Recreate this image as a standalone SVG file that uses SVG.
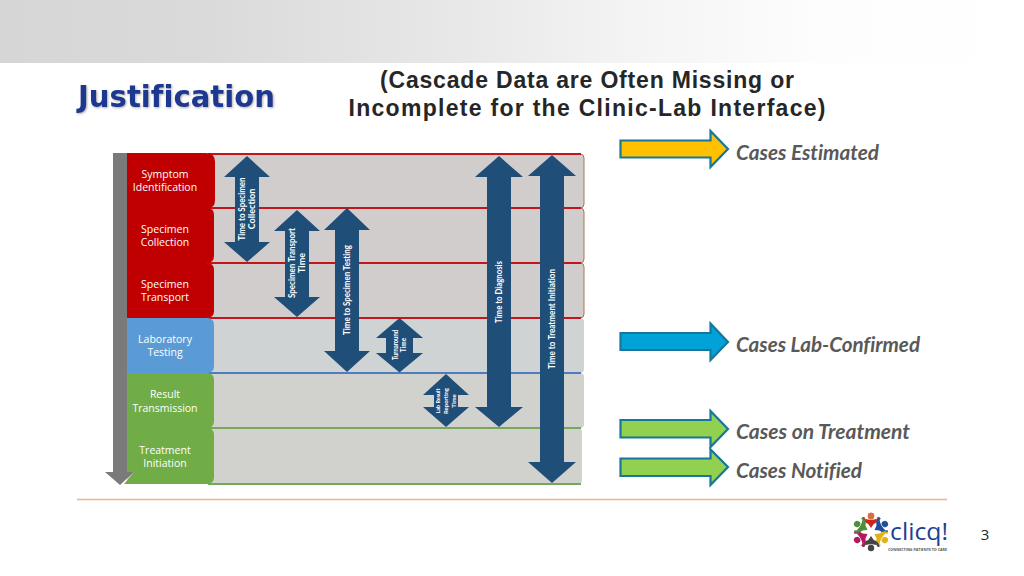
<svg xmlns="http://www.w3.org/2000/svg" width="1024" height="576" viewBox="0 0 1024 576">
<defs>
<linearGradient id="banner" x1="0" x2="1" y1="0" y2="0"><stop offset="0" stop-color="#d6d6d6"/><stop offset="0.2" stop-color="#dadada"/><stop offset="0.45" stop-color="#e8e8e8"/><stop offset="0.62" stop-color="#f4f4f4"/><stop offset="0.8" stop-color="#fdfdfd"/><stop offset="1" stop-color="#ffffff"/></linearGradient>
<filter id="sh" x="-5%" y="-20%" width="110%" height="140%"><feDropShadow dx="1" dy="1" stdDeviation="0.800" flood-color="#777" flood-opacity="0.6"/></filter>
<g id="person"><path d="M-6.500 -13.500Q0 -11 6.500 -13.500L0 -4Z"/><path d="M-7.500 -15Q-7 -10 -2 -9" fill="none" stroke-width="2" stroke="inherit"/><path d="M7.500 -15Q7 -10 2 -9" fill="none" stroke-width="2" stroke="inherit"/><circle cx="0" cy="-16" r="3.200"/></g>
</defs>
<style>
text{font-variant-ligatures:none}
.box{font-family:"Open Sans","Liberation Sans",sans-serif;font-size:10.500px;fill:#fff;text-anchor:middle}
.dbl{fill:#1f4e79}
.dt{font-family:"Lato","Open Sans",sans-serif;font-weight:700;fill:#fff;text-anchor:middle}
.case{font-family:"Lato","Open Sans",sans-serif;font-weight:700;font-style:italic;font-size:21px;fill:#595959}
.big{stroke:#17779b;stroke-width:2.200}
.head{font-family:"Liberation Sans","DejaVu Sans",sans-serif;font-weight:700;font-size:23px;fill:#262626;text-anchor:middle}
.rowbg{fill:#d2cdcd}
</style>
<rect id="banner-rect" x="0" y="0" width="1024" height="63" fill="url(#banner)"/>
<text id="title" x="78" y="107" font-family="DejaVu Sans,sans-serif" font-weight="700" font-size="31" fill="#1a3791" filter="url(#sh)" textLength="197" lengthAdjust="spacingAndGlyphs">Justification</text>
<g id="subtitle">
<text class="head" x="587" y="88" textLength="414">(Cascade Data are Often Missing or</text>
<text class="head" x="587" y="116" textLength="477">Incomplete for the Clinic-Lab Interface)</text>
</g>

<g id="swimlanes">
<path class="rowbg" d="M127 154H580Q584 154 584 158V204Q584 208 580 208H127Z"/>
<path class="rowbg" d="M127 208H580Q584 208 584 212V259Q584 263 580 263H127Z"/>
<path class="rowbg" d="M127 263H580Q584 263 584 267V314Q584 318 580 318H127Z"/>
<path d="M127 318H580Q584 318 584 322V369Q584 373 580 373H127Z" fill="#d0d3d3"/>
<path d="M127 373H580Q584 373 584 377V424Q584 428 580 428H127Z" fill="#d1d2ce"/>
<path d="M127 428H578Q582 428 582 432V480Q582 484 578 484H127Z" fill="#d1d2ce"/>
<path d="M580 154Q584 154 584 158V204Q584 208 580 208M580 208Q584 208 584 212V259Q584 263 580 263M580 263Q584 263 584 267V314Q584 318 580 318" fill="none" stroke="#a5765a" stroke-width="1"/>
<g fill="none" stroke-width="2">
<path d="M208 154H581M208 208H581M208 263H581M208 318H581" stroke="#c0161c"/>
<path d="M208 373H581" stroke="#4f7cc0"/>
<path d="M208 428H581M208 484H581" stroke="#77a75a"/>
</g>
</g>

<g id="phase-arrow"><path d="M113 153H127V472H134L120 485L105 472H113Z" fill="#7a7a7a"/></g>

<g id="symptom"><path d="M127 153H206Q215 153 215 162V200Q215 208 208 208H127Z" fill="#c00000"/><text class="box" x="165" y="178">Symptom</text><text class="box" x="165" y="191">Identification</text></g>
<g id="collection"><path d="M127 208H207Q214 208 214 215V256Q214 263 207 263H127Z" fill="#c00000"/><text class="box" x="165" y="233">Specimen</text><text class="box" x="165" y="246">Collection</text></g>
<g id="transport"><path d="M127 263H207Q214 263 214 270V311Q214 318 207 318H127Z" fill="#c00000"/><text class="box" x="165" y="288">Specimen</text><text class="box" x="165" y="301">Transport</text></g>
<g id="laboratory"><path d="M127 318H207Q214 318 214 325V366Q214 373 207 373H127Z" fill="#5b9bd5"/><text class="box" x="165" y="343">Laboratory</text><text class="box" x="165" y="356">Testing</text></g>
<g id="result"><path d="M127 373H207Q214 373 214 380V421Q214 428 207 428H127Z" fill="#70ad47"/><text class="box" x="165" y="398">Result</text><text class="box" x="165" y="412">Transmission</text></g>
<g id="treatment"><path d="M127 428H207Q214 428 214 435V477Q214 484 207 484H124L134 472H127Z" fill="#70ad47"/><text class="box" x="165" y="454">Treatment</text><text class="box" x="165" y="467">Initiation</text></g>

<g id="connectors">
<path class="dbl" d="M247 156L270 177H259V242H270L247 262L224 242H235V177H224Z"/>
<path class="dbl" d="M297 210L320 231H309V297H320L297 317L274 297H285V231H274Z"/>
<path class="dbl" d="M347 208L370 230H359V351H370L347 372L324 351H335V230H324Z"/>
<path class="dbl" d="M399.500 318L423 338H413V353H423L399.500 372.500L376 353H386V338H376Z"/>
<path class="dbl" d="M446 374L469 395H458V407H469L446 427L423 407H434V395H423Z"/>
<path class="dbl" d="M499 156L523 177H511V407H523L499 427L475 407H487V177H475Z"/>
<path class="dbl" d="M552 155L576 176H564V462H576L552 483L528 462H540V176H528Z"/>
</g>
<g id="interval-labels">
<g transform="translate(247 209) rotate(-90)"><text class="dt" font-size="9" y="-2.500" textLength="63" lengthAdjust="spacingAndGlyphs">Time to Specimen</text><text class="dt" font-size="9" y="8">Collection</text></g>
<g transform="translate(297 263) rotate(-90)"><text class="dt" font-size="9" y="-2.500" textLength="70" lengthAdjust="spacingAndGlyphs">Specimen Transport</text><text class="dt" font-size="9" y="8">Time</text></g>
<g transform="translate(347 290) rotate(-90)"><text class="dt" font-size="9" y="3" textLength="90" lengthAdjust="spacingAndGlyphs">Time to Specimen Testing</text></g>
<g transform="translate(399.500 345) rotate(-90)"><text class="dt" font-size="6.500" y="-2" textLength="30" lengthAdjust="spacingAndGlyphs">Turnaround</text><text class="dt" font-size="6.500" y="6">Time</text></g>
<g transform="translate(446 401) rotate(-90)"><text class="dt" font-size="6" y="-6" textLength="25" lengthAdjust="spacingAndGlyphs">Lab Result</text><text class="dt" font-size="6" y="2" textLength="26" lengthAdjust="spacingAndGlyphs">Reporting</text><text class="dt" font-size="6" y="10">Time</text></g>
<g transform="translate(499 292) rotate(-90)"><text class="dt" font-size="9" y="3" textLength="62" lengthAdjust="spacingAndGlyphs">Time to Diagnosis</text></g>
<g transform="translate(552 319) rotate(-90)"><text class="dt" font-size="9" y="3" textLength="100" lengthAdjust="spacingAndGlyphs">Time to Treatment Initiation</text></g>
</g>

<g id="cases-estimated"><path class="big" d="M620.500 140.500H710.500V131L728 149L710.500 167V157.500H620.500Z" fill="#ffc000"/><text class="case" x="736" y="160" textLength="143" lengthAdjust="spacingAndGlyphs">Cases Estimated</text></g>
<g id="cases-lab"><path class="big" d="M620.500 333H710.500V323.500L728 342L710.500 360V350H620.500Z" fill="#00a2d8"/><text class="case" x="736" y="352" textLength="184" lengthAdjust="spacingAndGlyphs">Cases Lab-Confirmed</text></g>
<g id="cases-treatment"><path class="big" d="M620.500 420H710.500V411L728 429L710.500 447V437.500H620.500Z" fill="#92d050"/><text class="case" x="736" y="439" textLength="174" lengthAdjust="spacingAndGlyphs">Cases on Treatment</text></g>
<g id="cases-notified"><path class="big" d="M620.500 458.500H710.500V449.500L728 467L710.500 485V476H620.500Z" fill="#92d050"/><text class="case" x="736" y="478" textLength="126" lengthAdjust="spacingAndGlyphs">Cases Notified</text></g>

<path id="rule" d="M77 499.500H947" stroke="#f4b183" stroke-width="1.500" fill="none"/>

<g id="logo">
<use href="#person" transform="translate(871 532)" fill="#c8281e" stroke="#c8281e" stroke-width="0"/>
<use href="#person" transform="translate(871 532) rotate(60)" fill="#1f4f9e" stroke="#1f4f9e" stroke-width="0"/>
<use href="#person" transform="translate(871 532) rotate(120)" fill="#e0b21c" stroke="#e0b21c" stroke-width="0"/>
<use href="#person" transform="translate(871 532) rotate(180)" fill="#454545" stroke="#454545" stroke-width="0"/>
<use href="#person" transform="translate(871 532) rotate(240)" fill="#b3195e" stroke="#b3195e" stroke-width="0"/>
<use href="#person" transform="translate(871 532) rotate(300)" fill="#4e8f3a" stroke="#4e8f3a" stroke-width="0"/>
<circle cx="871" cy="516" r="3.200" fill="#d9703a"/>
<text x="890" y="540" font-family="Open Sans,sans-serif" font-size="24" fill="#1f3f8f" textLength="58" lengthAdjust="spacingAndGlyphs">clicq!</text>
<text x="888" y="550.500" font-family="Open Sans,sans-serif" font-weight="700" font-size="4" fill="#555" textLength="59" lengthAdjust="spacingAndGlyphs">CONNECTING PATIENTS TO CARE</text>
</g>
<text id="page" x="985" y="540" font-family="Open Sans,sans-serif" font-size="15" fill="#262626" text-anchor="middle">3</text>
</svg>
